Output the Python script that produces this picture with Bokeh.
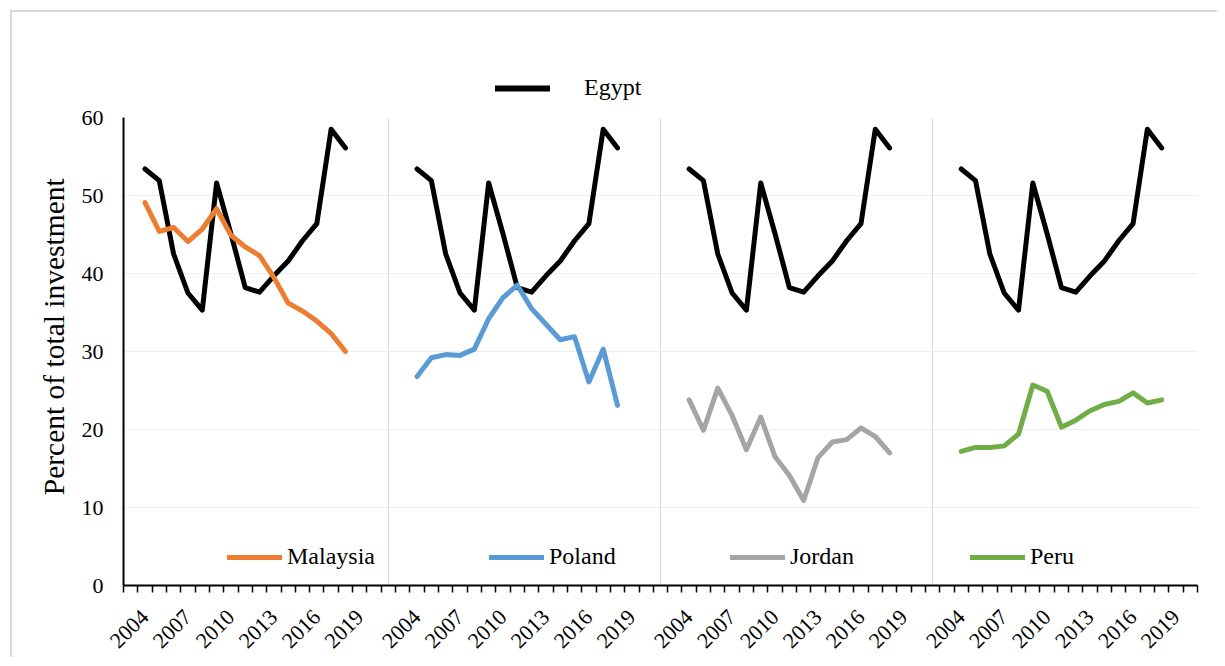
import math
import numpy as np
from bokeh.plotting import figure
from bokeh.layouts import column
from bokeh.models import FixedTicker, Legend, LegendItem, Range1d
from bokeh.embed import file_html
from bokeh.resources import INLINE

# ---------------- data ----------------
years = list(range(2004, 2019))
egypt = [53.4, 51.9, 42.5, 37.5, 35.3, 51.6, 45.1, 38.2, 37.6, 39.7, 41.6, 44.2, 46.4, 58.5, 56.1]
malaysia = [49.1, 45.4, 45.9, 44.1, 45.7, 48.3, 44.9, 43.4, 42.3, 39.5, 36.2, 35.2, 33.9, 32.3, 30.0]
poland = [26.8, 29.2, 29.6, 29.5, 30.3, 34.2, 36.9, 38.5, 35.5, 33.5, 31.5, 31.9, 26.1, 30.3, 23.1]
jordan = [23.8, 19.9, 25.3, 21.8, 17.4, 21.6, 16.5, 14.1, 10.9, 16.4, 18.4, 18.7, 20.2, 19.1, 17.0]
peru = [17.2, 17.7, 17.7, 17.9, 19.4, 25.7, 24.9, 20.3, 21.2, 22.4, 23.2, 23.6, 24.7, 23.4, 23.8]
countries = ["Malaysia", "Poland", "Jordan", "Peru"]
country_values = [malaysia, poland, jordan, peru]
colors = ["#ED7D31", "#5B9BD5", "#A5A5A5", "#70AD47"]
axis_years = list(range(2004, 2020))
label_years = [2004, 2007, 2010, 2013, 2016, 2019]
y_ticks = [0, 10, 20, 30, 40, 50, 60]

# category slots: each panel = blank, 2004..2019, blank, blank (last panel: one trailing blank)
PANEL = len(axis_years) + 3
n_slots = PANEL * 4 - 1


def slot(panel, year):
    return PANEL * panel + 1 + (year - axis_years[0])


FONT = "Liberation Serif"
W = 1205
TOP_H = 92
LINE_W = 5


def make_legend(renderer, label, loc, standoff):
    return Legend(items=[LegendItem(label=label, renderers=[renderer])], location=loc,
                  orientation="horizontal", background_fill_alpha=0, border_line_alpha=0,
                  padding=0, margin=0, spacing=0, label_standoff=standoff,
                  glyph_width=55, glyph_height=20, label_height=20,
                  label_text_font=FONT, label_text_font_size="24px", label_text_color="black")


# ---------------- top strip holding the Egypt legend ----------------
top = figure(width=W, height=TOP_H, output_backend="svg", toolbar_location=None,
             x_range=Range1d(0, 1), y_range=Range1d(0, 1), min_border=0,
             x_axis_location=None, y_axis_location=None,
             background_fill_color="white", border_fill_color="white")
top.outline_line_color = None
top.grid.visible = False
# the Egypt series itself (falls outside this strip's ranges, only its legend key shows)
egypt_key = top.line(years, egypt, line_color="black", line_width=6, line_cap="round")
top.add_layout(make_legend(egypt_key, "Egypt", (372, 3), 34), "center")

# ---------------- main chart ----------------
p = figure(width=W, height=645 - TOP_H, output_backend="svg", toolbar_location=None,
           x_range=Range1d(-0.5, n_slots - 0.5), y_range=Range1d(0, 60),
           min_border_left=111, min_border_right=20, min_border_top=105 - TOP_H,
           min_border_bottom=72,
           background_fill_color="white", border_fill_color="white")
p.outline_line_color = None

# Egypt repeated in each panel (NaN separated)
ex, ey = [], []
for k in range(4):
    ex += [slot(k, y) for y in years] + [np.nan]
    ey += egypt + [np.nan]
egypt_r = p.line(ex, ey, line_color="black", line_width=LINE_W, line_join="round", line_cap="round")

country_r = []
for k, (vals, col) in enumerate(zip(country_values, colors)):
    r = p.line([slot(k, y) for y in years], vals, line_color=col, line_width=LINE_W,
               line_join="round", line_cap="round")
    country_r.append(r)

# ---------------- axes ----------------
major = [slot(k, y) for k in range(4) for y in label_years]
overrides = {slot(k, y): str(y) for k in range(4) for y in label_years}
p.xaxis.ticker = FixedTicker(ticks=major, minor_ticks=[i - 0.5 for i in range(n_slots + 1)])
p.xaxis.major_label_overrides = overrides
p.xaxis.major_label_orientation = math.pi / 4
p.xaxis.major_tick_out = 0
p.xaxis.major_tick_in = 0
p.xaxis.minor_tick_out = 7
p.xaxis.minor_tick_in = 0
p.xaxis.minor_tick_line_color = "black"
p.xaxis.minor_tick_line_width = 1.5
p.xaxis.axis_line_color = "black"
p.xaxis.axis_line_width = 2
p.xaxis.major_label_text_font = FONT
p.xaxis.major_label_text_font_size = "22px"
p.xaxis.major_label_text_color = "black"
p.xaxis.major_label_standoff = 21

p.yaxis.ticker = FixedTicker(ticks=y_ticks)
p.yaxis.major_tick_out = 0
p.yaxis.major_tick_in = 0
p.yaxis.minor_tick_out = 0
p.yaxis.minor_tick_in = 0
p.yaxis.axis_line_color = "black"
p.yaxis.axis_line_width = 2
p.yaxis.major_label_text_font = FONT
p.yaxis.major_label_text_font_size = "22px"
p.yaxis.major_label_text_color = "black"
p.yaxis.major_label_standoff = 20
p.yaxis.axis_label = "\u00a0\u00a0\u00a0\u00a0Percent of total investment"
p.yaxis.axis_label_text_font = FONT
p.yaxis.axis_label_text_font_size = "29.5px"
p.yaxis.axis_label_text_font_style = "normal"
p.yaxis.axis_label_text_color = "black"
p.yaxis.axis_label_standoff = 9

p.ygrid.ticker = FixedTicker(ticks=y_ticks[1:])
p.ygrid.grid_line_color = "#efefef"
p.ygrid.grid_line_width = 1.2
p.xgrid.ticker = FixedTicker(ticks=[PANEL * k - 1 for k in range(1, 4)])
p.xgrid.grid_line_color = "#dcdcdc"
p.xgrid.grid_line_width = 1.2

leg_x = [104, 366, 607, 847]
for r, name, lx in zip(country_r, countries, leg_x):
    p.add_layout(make_legend(r, name, (lx, 15), 5), "center")

layout = column(top, p, spacing=0,
                styles={"margin-left": "10px", "margin-top": "10px",
                        "border-left": "2px solid #d9d9d9", "border-top": "2px solid #d9d9d9"})

open("out.html", "w").write(file_html(layout, INLINE))
